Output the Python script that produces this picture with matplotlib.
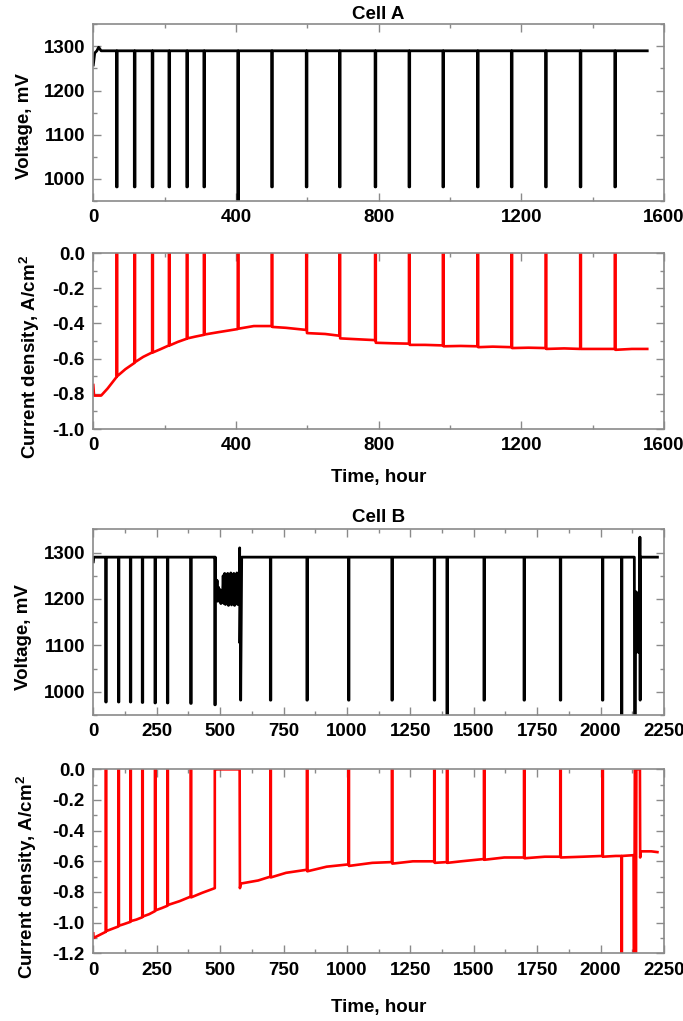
import numpy as np
import matplotlib
matplotlib.use("Agg")
import matplotlib.pyplot as plt
from matplotlib.ticker import MultipleLocator, FormatStrFormatter

###############################################################################
# data (time in hours)
###############################################################################

# ---- Cell A ----
A_events   = [65, 115, 165, 212, 262, 310, 405, 500, 597, 690, 790, 885, 980,
              1077, 1172, 1268, 1365, 1462]
A_v_dip    = [982, 982, 982, 982, 982, 982, 900, 982, 982, 982, 982, 982, 982,
              982, 982, 982, 982, 982]
A_v_knot_t = [0, 4, 10, 15, 22, 1553]
A_v_knot   = [1258, 1285, 1290, 1298, 1290, 1290]

A_j_before = [-0.705, -0.625, -0.565, -0.525, -0.487, -0.465, -0.432, -0.415,
              -0.437, -0.470, -0.495, -0.515, -0.525, -0.530, -0.535, -0.540,
              -0.545, -0.545]
A_j_after  = [-0.700, -0.620, -0.565, -0.525, -0.485, -0.463, -0.430, -0.420,
              -0.455, -0.485, -0.510, -0.522, -0.530, -0.535, -0.540, -0.545,
              -0.545, -0.550]
A_j_knot_t = [0, 2, 22, 40, 90, 140, 190, 237, 286, 350, 450, 540, 650, 740,
              840, 930, 1030, 1120, 1220, 1320, 1410, 1510, 1553]
A_j_knot   = [-0.75, -0.81, -0.81, -0.77, -0.66, -0.59, -0.545, -0.505,
              -0.475, -0.45, -0.415, -0.425, -0.46, -0.49, -0.513, -0.522,
              -0.528, -0.532, -0.538, -0.542, -0.545, -0.545, -0.545]

# ---- Cell B ----
B_events   = [49, 99, 146, 193, 243, 292, 384, 479, 698, 842, 1006, 1177,
              1344, 1394, 1540, 1698, 1841, 2007, 2082]
B_v_dip    = [978, 978, 978, 977, 976, 976, 975, 972, 982, 982, 982, 982,
              982, 900, 982, 982, 982, 982, 900]
B_v_knot_t = [0, 2, 478, 482, 485, 488, 491, 494, 497, 500, 503, 506, 509,
              512, 515, 518, 521, 524, 527, 530, 533, 536, 539, 542, 545, 548,
              551, 554, 557, 560, 563, 566, 569, 572, 575, 576, 577, 578, 580,
              581, 585, 2130, 2133, 2134, 2137, 2138, 2140, 2141, 2147, 2149,
              2151, 2153, 2155, 2156, 2157, 2160, 2224]
B_v_knot   = [1280, 1290, 1290, 1250, 1200, 1240, 1195, 1225, 1200, 1220,
              1190, 1215, 1195, 1250, 1190, 1255, 1188, 1245, 1192, 1255,
              1186, 1250, 1190, 1256, 1187, 1252, 1190, 1255, 1186, 1250,
              1192, 1256, 1188, 1250, 1190, 1255, 1310, 1105, 1200, 982, 1290,
              1290, 1290, 900, 900, 1215, 1085, 1215, 1205, 1085, 1205, 1085,
              1333, 982, 1290, 1290, 1290]

B_j_before = [-1.060, -1.025, -0.995, -0.965, -0.925, -0.890, -0.830, -0.775,
              -0.700, -0.655, -0.620, -0.605, -0.600, -0.605, -0.585, -0.575,
              -0.570, -0.565, -0.565]
B_j_peak   = [0.02, 0.02, 0.02, 0.02, 0.02, 0.02, 0.02, 0.02, 0.02, 0.02, 0.02,
              0.02, 0.02, 0.02, 0.02, 0.02, 0.02, 0.02, -1.3]
B_j_after  = [-1.055, -1.020, -0.990, -0.960, -0.920, -0.885, -0.835, 0.0,
              -0.705, -0.665, -0.630, -0.615, -0.610, -0.610, -0.590, -0.580,
              -0.575, -0.570, -0.565]
B_j_knot_t = [0, 1, 25, 75, 120, 170, 220, 270, 340, 430, 500, 577, 578, 582,
              650, 760, 920, 1100, 1260, 1450, 1620, 1780, 1930, 2060, 2130,
              2131, 2133, 2135, 2137, 2139, 2141, 2155, 2156, 2158, 2200, 2224]
B_j_knot   = [-1.07, -1.10, -1.08, -1.04, -1.01, -0.98, -0.945, -0.905,
              -0.86, -0.805, 0.0, 0.0, -0.775, -0.745, -0.725, -0.675, -0.635,
              -0.61, -0.60, -0.60, -0.575, -0.57, -0.57, -0.565, -0.56, -1.3,
              -1.3, 0.02, 0.02, -1.3, 0.0, 0.0, -0.575, -0.535, -0.535,
              -0.54]


###############################################################################
def build(knot_t, knot_v, ev_t, before, peak, after, w=2.0):
    pts = list(zip(knot_t, knot_v))
    for t, b, p, a in zip(ev_t, before, peak, after):
        pts += [(t, b), (t + 0.01, p), (t + w, p), (t + w + 0.01, a)]
    pts.sort(key=lambda q: q[0])
    return np.array([q[0] for q in pts]), np.array([q[1] for q in pts])


def volt_series(knot_t, knot_v, ev_t, dips):
    base = [1290] * len(ev_t)
    return build(knot_t, knot_v, ev_t, base, dips, base)


A_vt, A_vv = volt_series(A_v_knot_t, A_v_knot, A_events, A_v_dip)
A_jt, A_jv = build(A_j_knot_t, A_j_knot, A_events, A_j_before,
                   [0.02] * len(A_events), A_j_after)
B_vt, B_vv = volt_series(B_v_knot_t, B_v_knot, B_events, B_v_dip)
B_jt, B_jv = build(B_j_knot_t, B_j_knot, B_events, B_j_before, B_j_peak,
                   B_j_after)

###############################################################################
plt.rcParams['font.family'] = ['Liberation Sans', 'DejaVu Sans']
plt.rcParams['font.weight'] = 'bold'
plt.rcParams['axes.labelweight'] = 'bold'
plt.rcParams['axes.titleweight'] = 'bold'
plt.rcParams['font.size'] = 13.5
plt.rcParams['axes.unicode_minus'] = False
plt.rcParams['mathtext.fontset'] = 'custom'
plt.rcParams['mathtext.rm'] = 'Liberation Sans:bold'
plt.rcParams['mathtext.bf'] = 'Liberation Sans:bold'

GREY = '#8a8a8a'

fig = plt.figure(figsize=(6.83, 10.21), dpi=100)
ax1 = fig.add_axes([0.1366, 0.8031, 0.8356, 0.1731])
ax2 = fig.add_axes([0.1366, 0.5798, 0.8356, 0.1724])
ax3 = fig.add_axes([0.1366, 0.2997, 0.8356, 0.1819])
ax4 = fig.add_axes([0.1366, 0.0663, 0.8356, 0.1802])


def style(ax, xmax, xmaj, xmin, ymaj, ymin):
    ax.set_xlim(0, xmax)
    ax.xaxis.set_major_locator(MultipleLocator(xmaj))
    ax.xaxis.set_minor_locator(MultipleLocator(xmin))
    ax.yaxis.set_major_locator(MultipleLocator(ymaj))
    ax.yaxis.set_minor_locator(MultipleLocator(ymin))
    ax.tick_params(which='both', direction='in', top=True, right=True,
                   color=GREY, width=1.0, labelcolor='black')
    ax.tick_params(which='major', length=5.5, pad=6)
    ax.tick_params(which='minor', length=3)
    for s in ax.spines.values():
        s.set_edgecolor(GREY)
        s.set_linewidth(1.2)


# Cell A voltage
ax1.plot(A_vt, A_vv, color='black', lw=2.0)
style(ax1, 1600, 400, 200, 100, 50)
ax1.set_ylim(950, 1350)
ax1.set_title('Cell A', fontsize=13.5, fontweight='bold', pad=4)
ax1.set_ylabel('Voltage, mV', va='center')
ax1.yaxis.set_label_coords(-0.121, 0.424)

# Cell A current density
ax2.plot(A_jt, A_jv, color='red', lw=1.9)
style(ax2, 1600, 400, 200, 0.2, 0.1)
ax2.set_ylim(-1.0, 0.0)
ax2.yaxis.set_major_formatter(FormatStrFormatter('%.1f'))
ax2.set_ylabel('Current density, A/cm$^{2}$', va='center')
ax2.yaxis.set_label_coords(-0.112, 0.41)
ax2.set_xlabel('Time, hour', va='center')
ax2.xaxis.set_label_coords(0.5, -0.273)

# Cell B voltage
ax3.plot(B_vt, B_vv, color='black', lw=2.0)
style(ax3, 2250, 250, 125, 100, 50)
ax3.set_ylim(950, 1350)
ax3.set_title('Cell B', fontsize=13.5, fontweight='bold', pad=5)
ax3.set_ylabel('Voltage, mV', va='center')
ax3.yaxis.set_label_coords(-0.123, 0.42)

# Cell B current density
ax4.plot(B_jt, B_jv, color='red', lw=1.9)
style(ax4, 2250, 250, 125, 0.2, 0.1)
ax4.set_ylim(-1.2, 0.0)
ax4.yaxis.set_major_formatter(FormatStrFormatter('%.1f'))
ax4.set_ylabel('Current density, A/cm$^{2}$', va='center')
ax4.yaxis.set_label_coords(-0.116, 0.415)
ax4.set_xlabel('Time, hour', va='center')
ax4.xaxis.set_label_coords(0.5, -0.292)

fig.savefig('out.png', dpi=100)
